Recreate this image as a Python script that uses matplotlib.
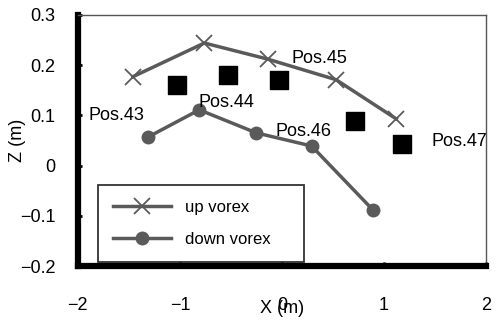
import matplotlib
matplotlib.use("Agg")
import matplotlib.pyplot as plt

# vortex centre positions (m)
up_x = [-1.46, -0.76, -0.14, 0.53, 1.12]
up_z = [0.177, 0.244, 0.212, 0.171, 0.093]

down_x = [-1.31, -0.81, -0.25, 0.29, 0.89]
down_z = [0.057, 0.111, 0.065, 0.039, -0.088]

# measuring positions
pos_x = [-1.03, -0.53, -0.03, 0.72, 1.18]
pos_z = [0.161, 0.181, 0.171, 0.089, 0.042]
pos_names = ["Pos.43", "Pos.44", "Pos.45", "Pos.46", "Pos.47"]
# where each name is written
name_x = [-1.90, -0.82, 0.09, -0.06, 1.47]
name_z = [0.100, 0.125, 0.214, 0.068, 0.047]

plt.rcParams["font.family"] = ["Liberation Sans", "DejaVu Sans"]

fig = plt.figure(figsize=(4.99, 3.24), dpi=100)
ax = fig.add_axes([0.156, 0.179, 0.818, 0.775])

grey = "#5a5a5a"
ax.plot(up_x, up_z, color=grey, lw=2.5, marker="x", ms=11, mew=1.3,
        label="up vorex")
ax.plot(down_x, down_z, color=grey, lw=2.5, marker="o", ms=9,
        label="down vorex")
ax.scatter(pos_x, pos_z, marker="s", s=160, color="black", zorder=3)

for name, x, z in zip(pos_names, name_x, name_z):
    ax.text(x, z, name, fontsize=13, ha="left", va="center")

ax.set_xlim(-2, 2)
ax.set_ylim(-0.2, 0.3)
ax.set_xticks([-2, -1, 0, 1, 2])
ax.set_yticks([-0.2, -0.1, 0, 0.1, 0.2, 0.3])
ax.set_xticklabels(["\u22122", "\u22121", "0", "1", "2"])
ax.set_yticklabels(["\u22120.2", "\u22120.1", "0", "0.1", "0.2", "0.3"])
ax.tick_params(direction="in", length=3, width=2, labelsize=13)
ax.tick_params(axis="x", pad=22)
ax.tick_params(axis="y", pad=16)

for side in ["left", "bottom"]:
    ax.spines[side].set_linewidth(4.5)
for side in ["top", "right"]:
    ax.spines[side].set_linewidth(1)
    ax.spines[side].set_color("#555555")

ax.set_xlabel("X (m)", fontsize=13, labelpad=-10)
ax.set_ylabel("Z (m)", fontsize=13, labelpad=-4)

leg = ax.legend(loc="lower left", bbox_to_anchor=(0.049, 0.016, 0.505, 0.323),
                mode="expand", fontsize=12, frameon=True, fancybox=False,
                borderpad=0.9, labelspacing=1.0, handlelength=3.5,
                borderaxespad=0)
leg.get_frame().set_edgecolor("black")
leg.get_frame().set_linewidth(1.3)

fig.savefig("out.png", dpi=100)
